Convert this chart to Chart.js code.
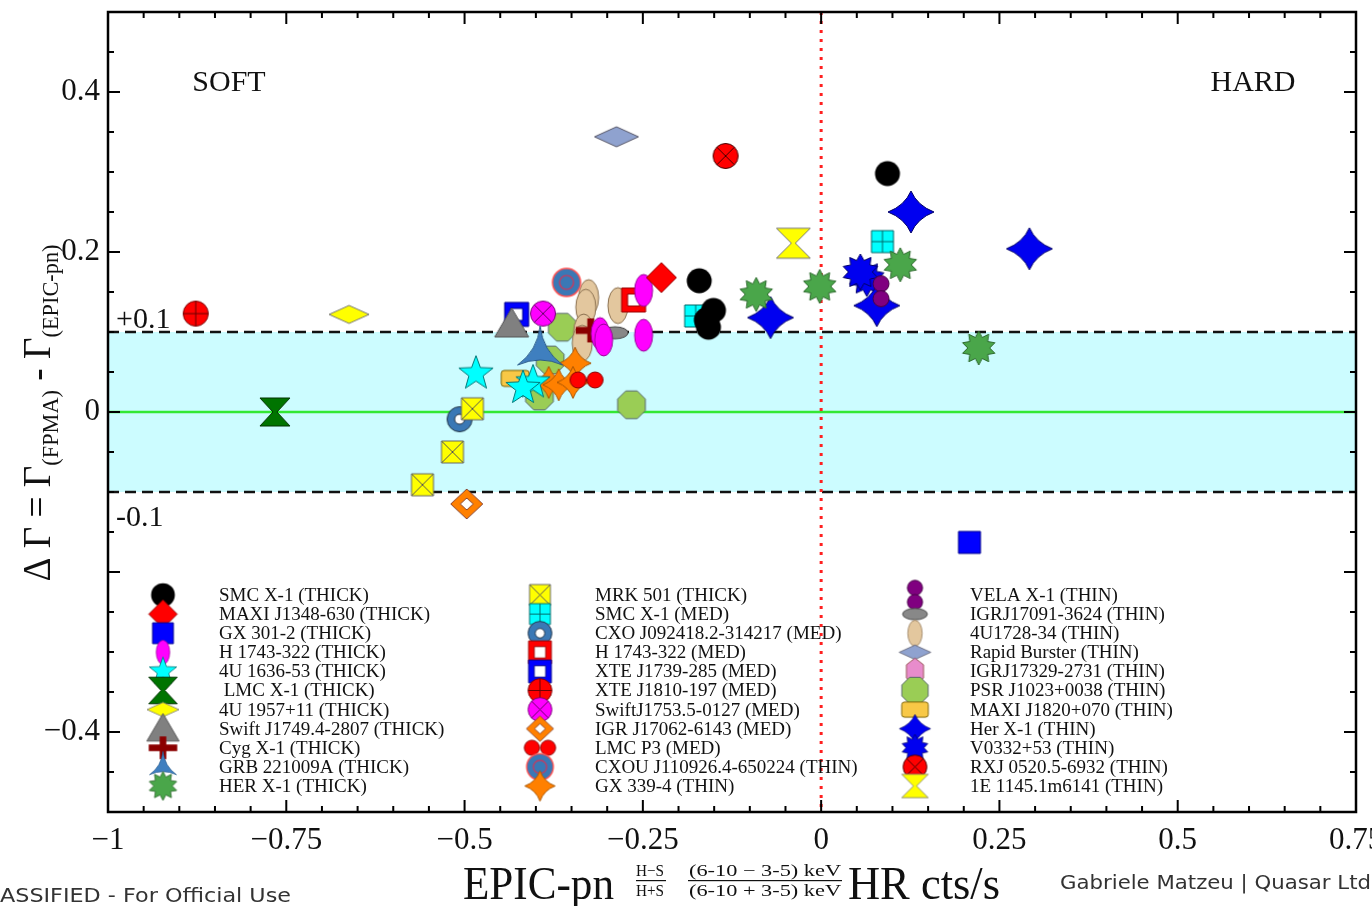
<!DOCTYPE html>
<html>
<head>
<meta charset="utf-8">
<script src="https://cdn.jsdelivr.net/npm/chart.js@4.4.1/dist/chart.umd.min.js"></script>
<style>
  html, body { margin: 0; padding: 0; background: #fff; }
  #wrap { width: 1372px; height: 906px; }
</style>
</head>
<body>
<div id="wrap"><canvas id="chart" width="1372" height="906"></canvas></div>
<script>
/* ---- data: [HR, ΔΓ] ---- */
const smcX1Thick = [[0.093, 0.298], [-0.171, 0.164], [-0.151, 0.127], [-0.161, 0.115], [-0.158, 0.106]];
const maxiJ1348Thick = [[-0.224, 0.168]];
const gx3012Thick = [[0.208, -0.163]];
const h1743Thick = [[-0.249, 0.152], [-0.249, 0.096], [-0.31, 0.098], [-0.305, 0.09]];
const u1636Thick = [[-0.484, 0.048], [-0.404, 0.037], [-0.418, 0.030]];
const lmcX1Thick = [[-0.766, 0.0]];
const u1957Thick = [[-0.662, 0.122]];
const swiftJ1749Thick = [[-0.434, 0.110]];
const cygX1Thick = [[-0.323, 0.102]];
const grb221009Thick = [[-0.394, 0.075]];
const herX1Thick = [[-0.091, 0.147], [-0.002, 0.157], [0.111, 0.184], [0.221, 0.080]];

const mrk501Thick = [[-0.489, 0.004], [-0.517, -0.050], [-0.559, -0.091]];
const smcX1Med = [[-0.176, 0.120], [0.086, 0.213]];
const cxoJ0924Med = [[-0.507, -0.009]];
const h1743Med = [[-0.263, 0.140]];
const xteJ1739Med = [[-0.427, 0.122]];
const xteJ1810Med = [[-0.877, 0.123]];
const swiftJ1753Med = [[-0.390, 0.123]];
const igrJ17062Med = [[-0.497, -0.115]];
const lmcP3Med = [[-0.329, 0.040]];
const cxouJ1109Thin = [[-0.357, 0.162]];
const gx3394Thin = [[-0.345, 0.061], [-0.382, 0.037], [-0.368, 0.034], [-0.348, 0.037]];

const velaX1Thin = [[0.084, 0.151]];
const igrJ17091Thin = [[-0.289, 0.099]];
const u1728Thin = [[-0.326, 0.143], [-0.330, 0.131], [-0.333, 0.100], [-0.335, 0.086], [-0.285, 0.133]];
const rapidBursterThin = [[-0.287, 0.344]];
const igrJ17329Thin = [];
const psrJ1023Thin = [[-0.363, 0.106], [-0.266, 0.009], [-0.380, 0.065], [-0.395, 0.020]];
const maxiJ1820Thin = [[-0.429, 0.042]];
const herX1Thin = [[-0.071, 0.118], [0.126, 0.250], [0.292, 0.204], [0.078, 0.133]];
const v0332Thin = [[0.064, 0.167], [0.055, 0.175]];
const rxj0520Thin = [[-0.134, 0.320]];
const e1145Thin = [[-0.039, 0.211]];

const xTickValues = [-1, -0.75, -0.5, -0.25, 0, 0.25, 0.5, 0.75];
const xTickLabels = ["\u22121", "\u22120.75", "\u22120.5", "\u22120.25", "0", "0.25", "0.5", "0.75"];
const yTickValues = [0.4, 0.2, 0, -0.4];
const yTickLabels = ["0.4", "0.2", "0", "\u22120.4"];

const SERIF = "'Liberation Serif', 'Times New Roman', serif";
const SANS = "'DejaVu Sans', sans-serif";

/* ---- marker shapes ---- */
const OUT = "#333";
function path(g, pts) {
  g.beginPath();
  pts.forEach((p, i) => (i ? g.lineTo(p[0], p[1]) : g.moveTo(p[0], p[1])));
  g.closePath();
}
function paint(g, fill, stroke = OUT, lw = 1) {
  g.fillStyle = fill;
  g.fill();
  if (stroke) { g.strokeStyle = stroke; g.lineWidth = lw; g.stroke(); }
}
function circ(g, x, y, r) { g.beginPath(); g.arc(x, y, r, 0, Math.PI * 2); }
function ell(g, rx, ry) { g.beginPath(); g.ellipse(0, 0, rx, ry, 0, 0, Math.PI * 2); }
function starPts(n, ro, ri) {
  const p = [];
  for (let i = 0; i < 2 * n; i++) {
    const a = -Math.PI / 2 + (i * Math.PI) / n, r = i % 2 ? ri : ro;
    p.push([r * Math.cos(a), r * Math.sin(a)]);
  }
  return p;
}
function concave(g, n, rx, ry, c) {
  g.beginPath();
  for (let i = 0; i <= n; i++) {
    const a = -Math.PI / 2 + (i * 2 * Math.PI) / n;
    const x = rx * Math.cos(a), y = ry * Math.sin(a);
    if (i === 0) g.moveTo(x, y);
    else { const m = a - Math.PI / n; g.quadraticCurveTo(c * Math.cos(m), c * Math.sin(m), x, y); }
  }
  g.closePath();
}
const diamond = (w, h) => [[0, -h / 2], [w / 2, 0], [0, h / 2], [-w / 2, 0]];
const square = (s) => [[-s / 2, -s / 2], [s / 2, -s / 2], [s / 2, s / 2], [-s / 2, s / 2]];
const hourglass = (w, h) => [[-w / 2, -h / 2], [w / 2, -h / 2], [2, 0], [w / 2, h / 2], [-w / 2, h / 2], [-2, 0]];
function lines(g, segs, col, lw = 1) {
  g.beginPath();
  segs.forEach(([a, b, c, d]) => { g.moveTo(a, b); g.lineTo(c, d); });
  g.strokeStyle = col; g.lineWidth = lw; g.stroke();
}

const M = {
  smcThick: (g) => { circ(g, 0, 0, 12.5); paint(g, "#000", null); },
  maxi1348: (g) => { path(g, diamond(30, 30)); paint(g, "#ff0000", "#900"); },
  gx301: (g) => { path(g, square(22)); paint(g, "#0000ff", "#00008b"); },
  h1743Thick: (g) => { ell(g, 9, 16); paint(g, "#ff00ff", "#909"); },
  u1636: (g) => { path(g, starPts(5, 18, 7.5)); paint(g, "#00ffff", "#077"); },
  lmcX1: (g) => { path(g, hourglass(30, 28)); paint(g, "#007400", "#030"); },
  u1957: (g) => { path(g, diamond(40, 18)); paint(g, "#ffff00", "#777"); },
  swift1749: (g) => { path(g, [[0, -16], [17, 13], [-17, 13]]); paint(g, "#808080", "#555"); },
  cyg: (g) => {
    g.fillStyle = "#8b0000";
    g.fillRect(-15, -3.5, 30, 7); g.fillRect(-3.5, -12, 7, 24);
  },
  grb: (g) => { concave(g, 3, 26, 26, 3); paint(g, "#3f7fbf", "#2a5a8a"); },
  herThick: (g) => { path(g, starPts(10, 17, 11)); paint(g, "#4aa64a", "#2d6a2d"); },
  mrk501: (g) => {
    path(g, square(22)); paint(g, "#ffff00", "#666");
    lines(g, [[-11, -11, 11, 11], [11, -11, -11, 11]], "#555");
  },
  smcMed: (g) => {
    path(g, square(22)); paint(g, "#00ffff", "#066");
    lines(g, [[-11, 0, 11, 0], [0, -11, 0, 11]], "#066");
  },
  cxo0924: (g) => {
    circ(g, 0, 0, 12.5); paint(g, "#3a78b5", "#234");
    circ(g, 0, 0, 5); paint(g, "#fff", "#234");
  },
  h1743Med: (g) => { path(g, square(24)); paint(g, "#ff0000", "#900"); path(g, square(12)); paint(g, "#fff", "#900"); },
  xte1739: (g) => { path(g, square(24)); paint(g, "#0000ff", "#00008b"); path(g, square(12)); paint(g, "#fff", "#00008b"); },
  xte1810: (g) => {
    circ(g, 0, 0, 12.5); paint(g, "#ff0000", "#700");
    lines(g, [[-12.5, 0, 12.5, 0], [0, -12.5, 0, 12.5]], "#600");
  },
  swift1753: (g) => {
    circ(g, 0, 0, 12.5); paint(g, "#ff00ff", "#707");
    lines(g, [[-9, -9, 9, 9], [9, -9, -9, 9]], "#606");
  },
  igr17062: (g) => { path(g, diamond(32, 30)); paint(g, "#ff8000", "#843"); path(g, diamond(13, 12)); paint(g, "#fff", "#843"); },
  lmcP3: (g) => { circ(g, -8.5, 0, 8); paint(g, "#ff0000", "#800"); circ(g, 8.5, 0, 8); paint(g, "#ff0000", "#800"); },
  cxou1109: (g) => {
    circ(g, 0, 0, 14); paint(g, "#3a78b5", "#ff5050", 1.5);
    circ(g, 0, 0, 7); g.strokeStyle = "#e03050"; g.lineWidth = 1.2; g.stroke();
  },
  gx339: (g) => { concave(g, 4, 16, 16, 6); paint(g, "#ff8000", "#a50"); },
  vela: (g) => { circ(g, 0, -7.5, 8); paint(g, "#800080", "#404"); circ(g, 0, 7.5, 8); paint(g, "#800080", "#404"); },
  igr17091: (g) => { ell(g, 13, 6); paint(g, "#888", "#444"); },
  u1728: (g) => { ell(g, 10, 18); paint(g, "#e3c79e", "#8a7050"); },
  rapid: (g) => { path(g, diamond(44, 20)); paint(g, "#8fa2cf", "#556"); },
  igr17329: (g) => { path(g, [[0, -14], [9, -7], [9, 7], [0, 14], [-9, 7], [-9, -7]]); paint(g, "#e88ccc", "#955"); },
  psr1023: (g) => {
    const p = [];
    for (let i = 0; i < 8; i++) { const a = Math.PI / 8 + (i * Math.PI) / 4; p.push([15 * Math.cos(a), 15 * Math.sin(a)]); }
    path(g, p); paint(g, "#9acd55", "#566");
  },
  maxi1820: (g) => {
    g.beginPath(); g.roundRect(-14, -8, 28, 16, 3); paint(g, "#f8c846", "#7a6000");
  },
  herThin: (g) => { concave(g, 4, 23, 21, 9); paint(g, "#0000f0", "#006"); },
  v0332: (g) => { path(g, starPts(10, 18, 12)); paint(g, "#0000f0", "#006"); },
  rxj: (g) => {
    circ(g, 0, 0, 12.5); paint(g, "#ff0000", "#400");
    lines(g, [[-9, -9, 9, 9], [9, -9, -9, 9]], "#400");
  },
  e1145: (g) => { path(g, hourglass(34, 30)); paint(g, "#ffff00", "#777"); },
};

/* legend icons are drawn smaller for the big shapes */
const LEGEND_SCALE = {
  herThin: 0.68, rapid: 0.72, grb: 0.6, u1957: 0.8, e1145: 0.78, u1636: 0.8,
  v0332: 0.75, herThick: 0.85, u1728: 0.72, h1743Thick: 0.75, igr17062: 0.85,
};

function icon(fn, k) {
  const c = document.createElement("canvas");
  const s = Math.ceil(62 * k);
  c.width = s; c.height = s;
  const g = c.getContext("2d");
  g.translate(s / 2, s / 2);
  g.scale(k, k);
  g.lineJoin = "round";
  fn(g);
  return c;
}

/* ---- series, in legend order (3 columns x 11 rows) ---- */
const SERIES = [
  ["SMC X-1 (THICK)", smcX1Thick, "smcThick"],
  ["MAXI J1348-630 (THICK)", maxiJ1348Thick, "maxi1348"],
  ["GX 301-2 (THICK)", gx3012Thick, "gx301"],
  ["H 1743-322 (THICK)", h1743Thick, "h1743Thick"],
  ["4U 1636-53 (THICK)", u1636Thick, "u1636"],
  [" LMC X-1 (THICK)", lmcX1Thick, "lmcX1"],
  ["4U 1957+11 (THICK)", u1957Thick, "u1957"],
  ["Swift J1749.4-2807 (THICK)", swiftJ1749Thick, "swift1749"],
  ["Cyg X-1 (THICK)", cygX1Thick, "cyg"],
  ["GRB 221009A (THICK)", grb221009Thick, "grb"],
  ["HER X-1 (THICK)", herX1Thick, "herThick"],
  ["MRK 501 (THICK)", mrk501Thick, "mrk501"],
  ["SMC X-1 (MED)", smcX1Med, "smcMed"],
  ["CXO J092418.2-314217 (MED)", cxoJ0924Med, "cxo0924"],
  ["H 1743-322 (MED)", h1743Med, "h1743Med"],
  ["XTE J1739-285 (MED)", xteJ1739Med, "xte1739"],
  ["XTE J1810-197 (MED)", xteJ1810Med, "xte1810"],
  ["SwiftJ1753.5-0127 (MED)", swiftJ1753Med, "swift1753"],
  ["IGR J17062-6143 (MED)", igrJ17062Med, "igr17062"],
  ["LMC P3 (MED)", lmcP3Med, "lmcP3"],
  ["CXOU J110926.4-650224 (THIN)", cxouJ1109Thin, "cxou1109"],
  ["GX 339-4 (THIN)", gx3394Thin, "gx339"],
  ["VELA X-1 (THIN)", velaX1Thin, "vela"],
  ["IGRJ17091-3624 (THIN)", igrJ17091Thin, "igr17091"],
  ["4U1728-34 (THIN)", u1728Thin, "u1728"],
  ["Rapid Burster (THIN)", rapidBursterThin, "rapid"],
  ["IGRJ17329-2731 (THIN)", igrJ17329Thin, "igr17329"],
  ["PSR J1023+0038 (THIN)", psrJ1023Thin, "psr1023"],
  ["MAXI J1820+070 (THIN)", maxiJ1820Thin, "maxi1820"],
  ["Her X-1 (THIN)", herX1Thin, "herThin"],
  ["V0332+53 (THIN)", v0332Thin, "v0332"],
  ["RXJ 0520.5-6932 (THIN)", rxj0520Thin, "rxj"],
  ["1E 1145.1m6141 (THIN)", e1145Thin, "e1145"],
];

const datasets = SERIES.map(([label, pts, key]) => ({
  label,
  data: pts.map(([x, y]) => ({ x, y })),
  pointStyle: icon(M[key], 1),
  pointRadius: 10,
  showLine: false,
}));

/* ---- helpers for text ---- */
function fitText(ctx, text, x, y, w, font, align = "left") {
  ctx.save();
  ctx.font = font;
  const mw = ctx.measureText(text).width;
  const sx = w / mw;
  const x0 = align === "center" ? x - w / 2 : x;
  ctx.translate(x0, y);
  ctx.scale(sx, 1);
  ctx.textAlign = "left";
  ctx.fillText(text, 0, 0);
  ctx.restore();
}

/* ---- background: band, zero line, ±0.1 dashes, x=0 dotted ---- */
const backdrop = {
  id: "backdrop",
  beforeDatasetsDraw(chart) {
    const { ctx, chartArea: a, scales: { x, y } } = chart;
    ctx.save();
    const yt = y.getPixelForValue(0.1), yb = y.getPixelForValue(-0.1), y0 = y.getPixelForValue(0);
    ctx.fillStyle = "#ccfcff";
    ctx.fillRect(a.left, yt, a.right - a.left, yb - yt);
    ctx.strokeStyle = "#33e833"; ctx.lineWidth = 2.5;
    ctx.beginPath(); ctx.moveTo(a.left, y0); ctx.lineTo(a.right, y0); ctx.stroke();
    ctx.strokeStyle = "#111"; ctx.lineWidth = 2.5; ctx.setLineDash([11, 6]);
    [yt, yb].forEach((py) => { ctx.beginPath(); ctx.moveTo(a.left, py); ctx.lineTo(a.right, py); ctx.stroke(); });
    const x0 = x.getPixelForValue(0);
    ctx.strokeStyle = "#ff2020"; ctx.lineWidth = 3; ctx.setLineDash([3, 6]);
    ctx.beginPath(); ctx.moveTo(x0, a.top); ctx.lineTo(x0, a.bottom); ctx.stroke();
    ctx.restore();
  },
};

/* ---- frame, inward ticks, legend, labels ---- */
const overlay = {
  id: "overlay",
  afterDraw(chart) {
    const { ctx, chartArea: a, scales: { x, y } } = chart;
    ctx.save();
    ctx.strokeStyle = "#000"; ctx.lineWidth = 2.5;
    ctx.strokeRect(a.left, a.top, a.right - a.left, a.bottom - a.top);
    ctx.lineWidth = 2;
    ctx.beginPath();
    for (let i = -20; i <= 15; i++) {
      const v = i * 0.05, px = x.getPixelForValue(v);
      const len = i % 5 === 0 ? 12 : 6;
      ctx.moveTo(px, a.bottom); ctx.lineTo(px, a.bottom - len);
      ctx.moveTo(px, a.top); ctx.lineTo(px, a.top + len);
    }
    for (let i = -10; i <= 10; i++) {
      const v = i * 0.05, py = y.getPixelForValue(v);
      const len = i % 4 === 0 ? 12 : 6;
      ctx.moveTo(a.left, py); ctx.lineTo(a.left + len, py);
      ctx.moveTo(a.right, py); ctx.lineTo(a.right - len, py);
    }
    ctx.stroke();

    // legend
    ctx.fillStyle = "#111";
    ctx.font = "19px " + SERIF;
    ctx.textBaseline = "middle";
    const colMarker = [163, 540, 915], colText = [219, 595, 970];
    SERIES.forEach(([label, , key], i) => {
      const col = Math.floor(i / 11), row = i % 11;
      const cy = 595 + row * 19.1;
      const ic = icon(M[key], LEGEND_SCALE[key] || 0.95);
      ctx.drawImage(ic, colMarker[col] - ic.width / 2, cy - ic.height / 2);
      ctx.fillText(label, colText[col], cy + 1);
    });

    // annotations
    ctx.textBaseline = "alphabetic";
    ctx.fillStyle = "#111";
    ctx.font = "30px " + SERIF;
    ctx.textAlign = "center";
    ctx.fillText("SOFT", 229, 91);
    ctx.fillText("HARD", 1253, 91);
    ctx.textAlign = "left";
    ctx.fillText("+0.1", 116, 328);
    ctx.fillText("-0.1", 116, 526);

    // y title (rotated)
    ctx.save();
    ctx.translate(50, 413);
    ctx.rotate(-Math.PI / 2);
    const parts = [
      ["\u0394 \u0393 = \u0393", 40, 0],
      ["(FPMA)", 24, 8],
      [" - \u0393", 40, 0],
      ["(EPIC-pn)", 24, 8],
    ];
    let tot = 0;
    parts.forEach(([t, s]) => { ctx.font = s + "px " + SERIF; tot += ctx.measureText(t).width; });
    const k = 337 / tot;
    ctx.scale(k, 1);
    let cx = -tot / 2;
    parts.forEach(([t, s, dy]) => {
      ctx.font = s + "px " + SERIF;
      ctx.fillText(t, cx, dy);
      cx += ctx.measureText(t).width;
    });
    ctx.restore();

    // x title
    const big = "46px " + SERIF, small = "16px " + SERIF;
    fitText(ctx, "EPIC-pn", 463, 899, 151, big);
    fitText(ctx, "H\u2212S", 650, 876, 28, small, "center");
    fitText(ctx, "H+S", 650, 896, 28, small, "center");
    fitText(ctx, "(6-10 \u2212 3-5) keV", 765, 876, 152, small, "center");
    fitText(ctx, "(6-10 + 3-5) keV", 765, 896, 152, small, "center");
    ctx.fillRect(636, 880, 30, 1.2);
    ctx.fillRect(688, 880, 154, 1.2);
    fitText(ctx, "HR cts/s", 848, 899, 152, big);

    // footer
    ctx.fillStyle = "#333";
    fitText(ctx, "ASSIFIED - For Official Use", 0, 902, 291, "19px " + SANS);
    fitText(ctx, "Gabriele Matzeu | Quasar Ltd", 1060, 889, 311, "19px " + SANS);
    ctx.restore();
  },
};

const noPad = (s) => { s.paddingLeft = 0; s.paddingRight = 0; s.paddingTop = 0; s.paddingBottom = 0; };

new Chart(document.getElementById("chart"), {
  type: "scatter",
  data: { datasets },
  options: {
    responsive: false,
    animation: false,
    layout: { padding: { left: 0, top: 12, right: 16, bottom: 0 } },
    plugins: { legend: { display: false }, tooltip: { enabled: false } },
    scales: {
      x: {
        type: "linear", min: -1, max: 0.75,
        afterFit: (s) => { s.height = 94; noPad(s); },
        afterBuildTicks: (s) => { s.ticks = xTickValues.map((value) => ({ value })); },
        grid: { display: false, drawTicks: false },
        border: { display: false },
        ticks: {
          padding: 10, color: "#111", font: { family: SERIF, size: 31 },
          callback: (v) => xTickLabels[xTickValues.findIndex((t) => Math.abs(t - v) < 1e-6)] ?? "",
        },
      },
      y: {
        type: "linear", min: -0.5, max: 0.5,
        afterFit: (s) => { s.width = 108; noPad(s); },
        afterBuildTicks: (s) => { s.ticks = yTickValues.map((value) => ({ value })); },
        grid: { display: false, drawTicks: false },
        border: { display: false },
        ticks: {
          padding: 8, color: "#111", font: { family: SERIF, size: 31 },
          callback: (v) => yTickLabels[yTickValues.findIndex((t) => Math.abs(t - v) < 1e-6)] ?? "",
        },
      },
    },
  },
  plugins: [backdrop, overlay],
});
</script>
</body>
</html>
